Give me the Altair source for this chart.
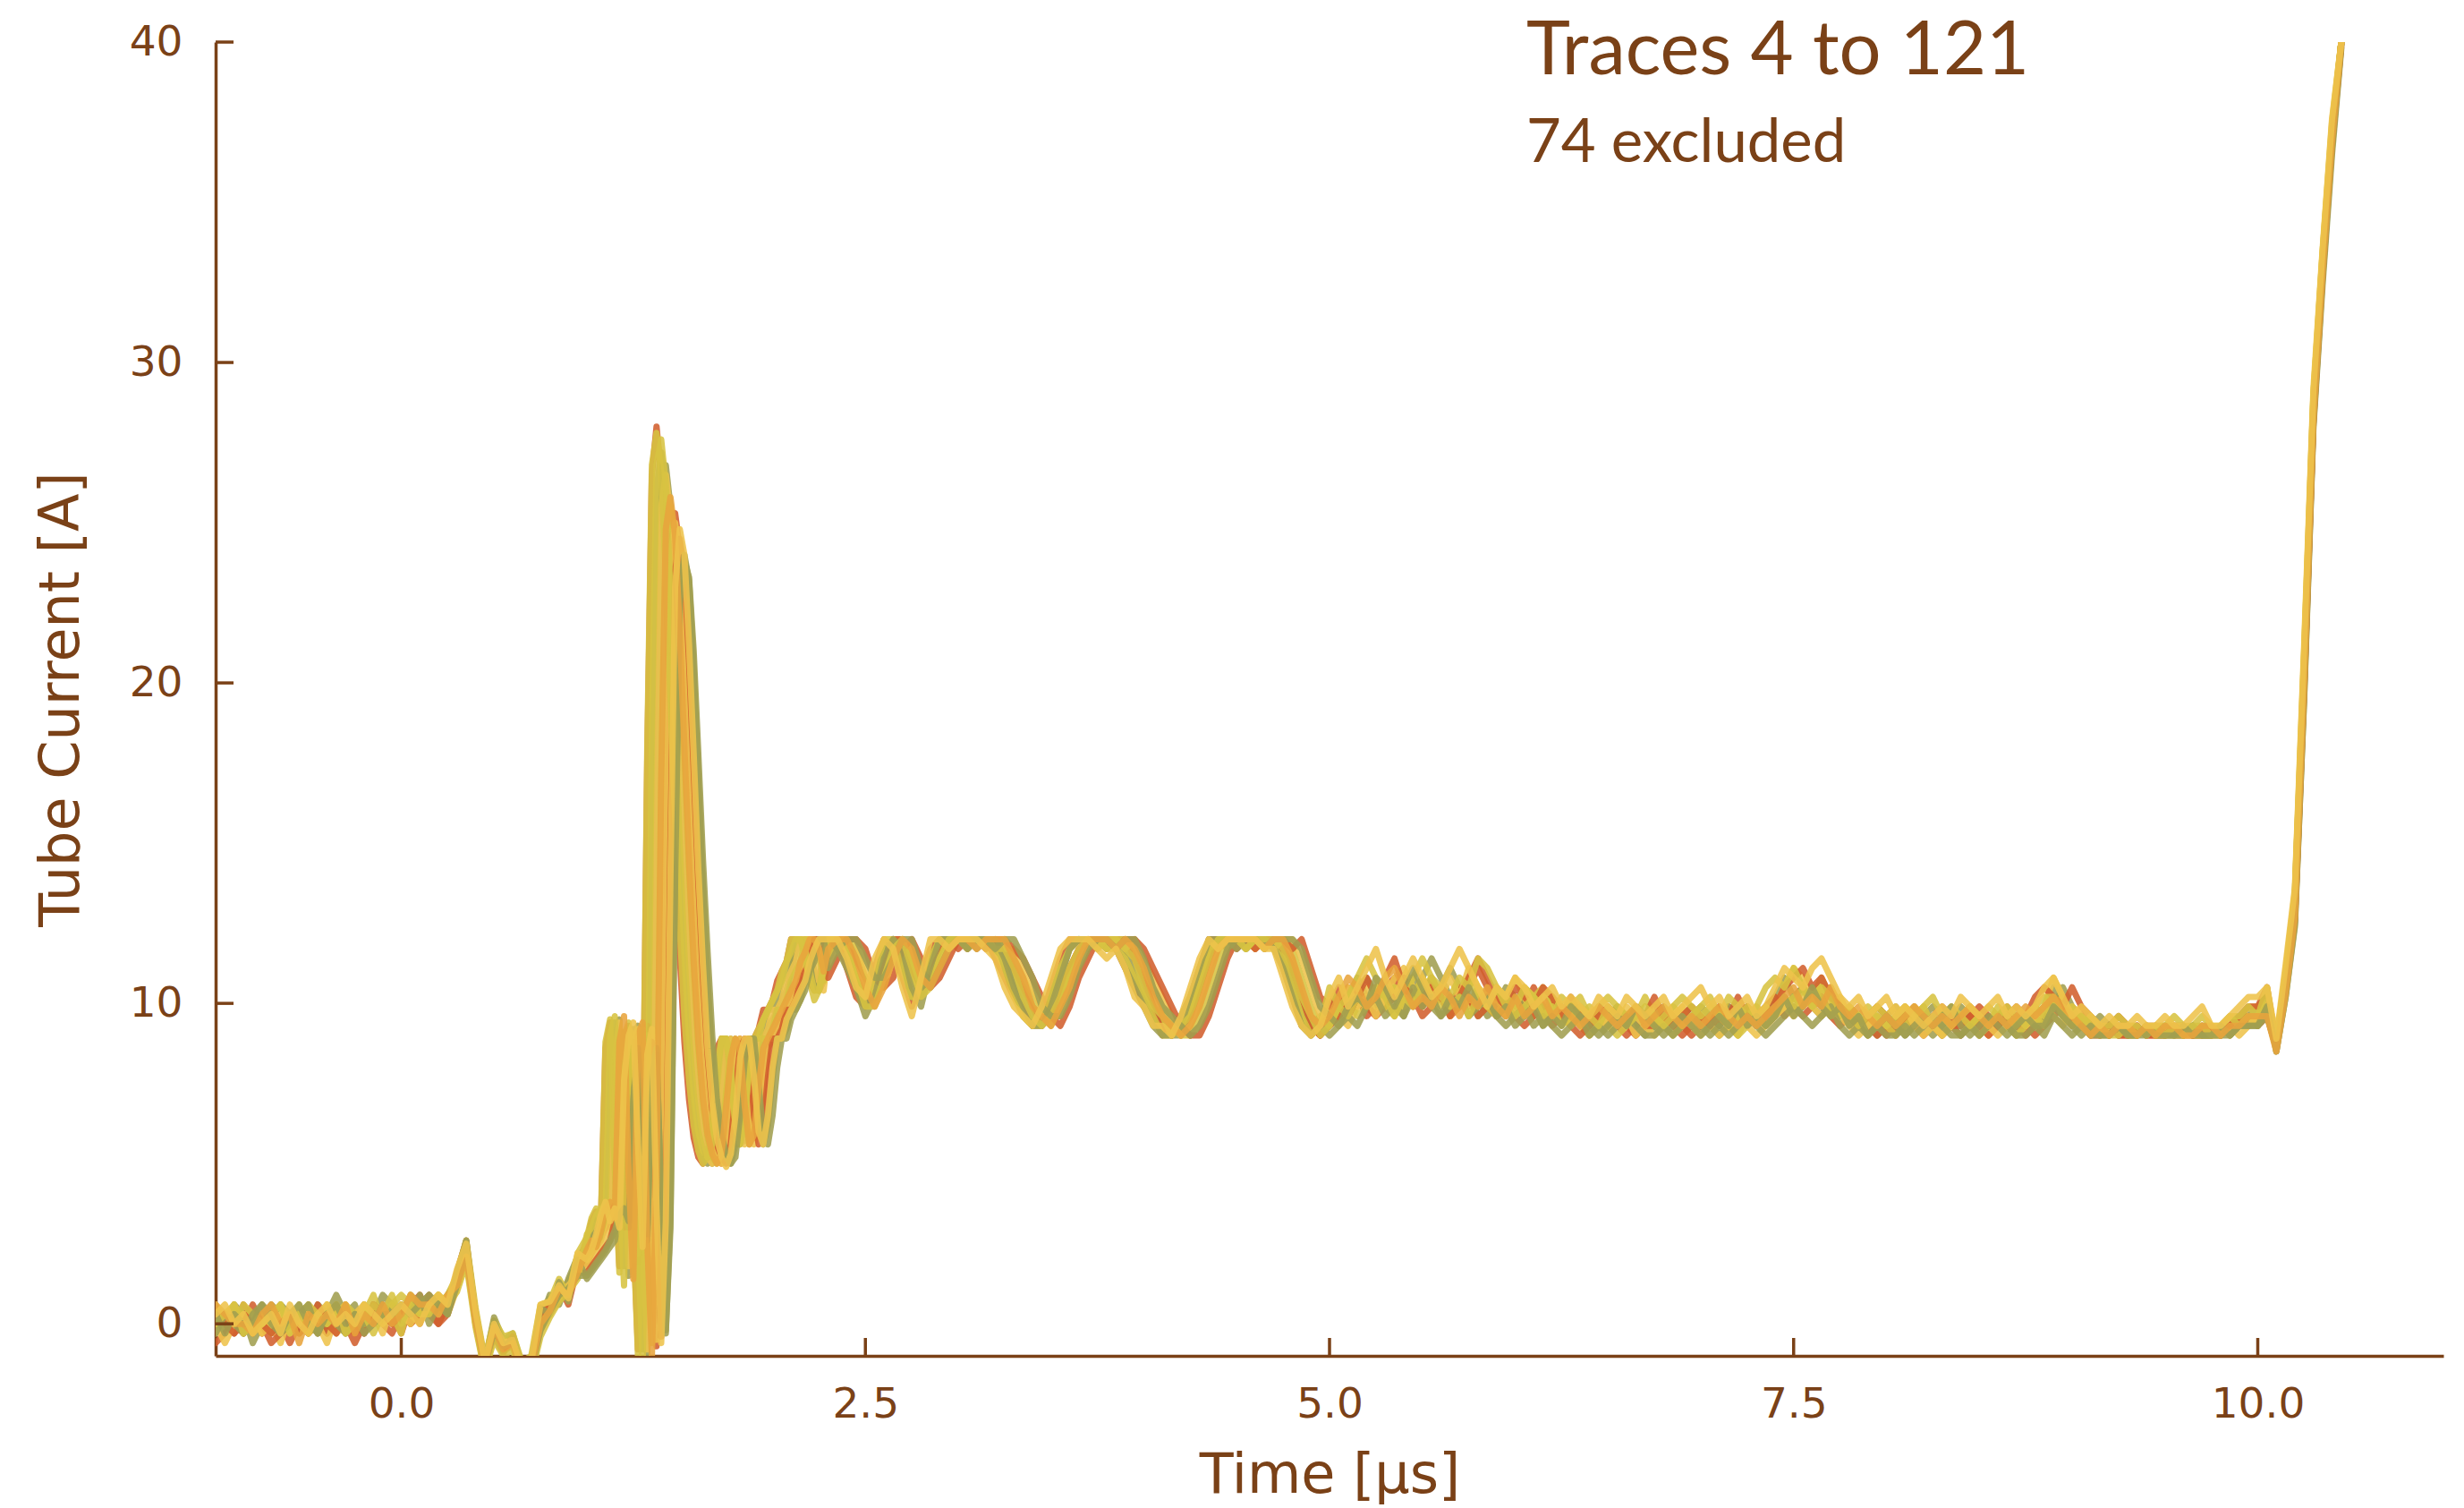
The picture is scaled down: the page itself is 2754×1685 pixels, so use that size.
import altair as alt
import pandas as pd

# ---------------- data ----------------
# sample-time segments: (start [us], step [us], count)
SEGMENTS = [(-1.0, 0.05, 40), (1.0, 0.025, 52), (2.3, 0.05, 54), (5.0, 0.05, 100), (10.0, 0.05, 10)]
TIME = [round(s + d * i, 3) for s, d, n in SEGMENTS for i in range(n)]

TRACES = ["4", "11", "17", "23", "29", "36", "48", "59", "64", "72", "85", "93", "101", "121"]
COLORS = ["#d25f2d", "#a09e50", "#a09e50", "#eec34b", "#d25f2d", "#d7c341", "#eec34b",
          "#d25f2d", "#d7c341", "#a09e50", "#d7c341", "#a09e50", "#e8a43c", "#eec34b"]

# segment 1: -1.00 .. 0.95 us
SEG1 = {
    "4":   [0.0, 0.3, -0.3, 0.6, 0.0, -0.3, 0.3, 0.0, -0.6, 0.0, 0.3, -0.3, 0.0, 0.6, 0.0, -0.3, 0.3, 0.0, 0.6, 0.3, -0.3, 0.6, 0.9, 0.3, 0.0, 0.6, 1.6, 2.6, 0.2, -1.4, -0.1, -0.8, -0.5, -1.5, -1.4, 0.4, 0.6, 1.2, 0.6, 1.8],
    "11":  [0.3, -0.3, 0.0, 0.3, -0.6, 0.0, 0.6, 0.3, 0.0, -0.3, 0.0, 0.3, -0.3, 0.0, 0.3, 0.6, -0.3, 0.3, 0.0, 0.6, 0.0, 0.3, 0.6, 0.9, 0.3, 0.9, 1.3, 2.3, 0.4, -1.2, 0.1, -0.6, -0.4, -1.4, -1.2, 0.1, 0.9, 0.6, 1.4, 2.1],
    "17":  [0.3, 0.0, 0.6, 0.3, -0.3, 0.3, 0.0, 0.6, 0.3, 0.0, -0.3, 0.6, 0.3, 0.9, 0.3, 0.0, 0.6, 0.3, 0.9, 0.6, 0.3, 0.9, 0.6, 0.3, 0.6, 0.9, 1.4, 2.5, 0.3, -1.2, 0.2, -0.5, -0.3, -1.3, -1.1, 0.3, 0.8, 1.0, 1.3, 2.0],
    "23":  [-0.3, 0.0, 0.6, 0.0, 0.3, -0.3, 0.0, -0.6, 0.3, 0.0, 0.6, 0.0, 0.3, -0.3, 0.0, 0.3, 0.6, 0.0, 0.3, 0.0, 0.6, 0.0, 0.3, 0.6, 0.9, 0.3, 1.1, 2.0, 0.0, -1.5, -0.3, -0.9, -0.6, -1.6, -1.3, -0.2, 0.3, 0.9, 1.2, 1.5],
    "29":  [-0.6, -0.3, 0.0, -0.3, 0.3, 0.0, -0.6, -0.3, 0.0, 0.3, -0.3, 0.0, -0.3, 0.3, 0.0, -0.6, 0.0, 0.3, 0.0, -0.3, 0.3, 0.0, 0.3, 0.6, 0.0, 0.3, 1.3, 2.4, 0.0, -1.4, -0.3, -0.8, -0.7, -1.6, -1.5, 0.0, 0.3, 0.8, 1.0, 1.7],
    "36":  [0.6, 0.0, 0.3, -0.3, 0.0, 0.3, -0.3, 0.3, 0.0, 0.6, -0.3, 0.0, 0.6, 0.3, -0.3, 0.0, 0.3, 0.9, 0.0, 0.3, -0.3, 0.9, 0.3, 0.6, 0.9, 0.6, 1.4, 2.4, 0.3, -1.3, 0.0, -0.7, -0.5, -1.5, -1.5, 0.2, 0.5, 1.0, 0.9, 1.9],
    "48":  [0.0, -0.6, 0.0, 0.3, 0.3, -0.3, 0.0, 0.3, -0.3, 0.0, 0.3, 0.0, -0.6, 0.3, 0.6, 0.0, 0.0, 0.3, -0.3, 0.6, 0.3, 0.0, 0.6, 0.3, 0.6, 0.9, 1.2, 2.2, 0.1, -1.4, -0.2, -0.5, -0.7, -1.6, -1.6, -0.1, 0.4, 0.8, 1.1, 1.7],
    "59":  [0.3, 0.0, -0.3, 0.0, 0.6, 0.0, -0.3, 0.0, 0.3, -0.3, 0.0, 0.6, 0.0, -0.3, 0.3, 0.0, -0.3, 0.6, 0.3, 0.0, 0.3, 0.6, 0.0, 0.9, 0.3, 0.6, 1.5, 2.5, 0.2, -1.1, -0.4, -0.9, -0.4, -1.5, -1.3, 0.3, 0.6, 0.9, 1.0, 1.6],
    "64":  [0.0, 0.3, 0.0, 0.6, 0.3, 0.0, 0.3, 0.6, 0.0, 0.3, 0.6, 0.3, 0.0, 0.3, 0.6, 0.3, 0.0, 0.6, 0.3, 0.6, 0.9, 0.6, 0.3, 0.6, 0.3, 0.9, 1.5, 2.6, 0.5, -1.1, 0.1, -0.4, -0.3, -1.2, -1.0, 0.6, 0.7, 1.4, 0.9, 2.2],
    "72":  [-0.3, 0.3, 0.0, -0.3, 0.3, 0.6, 0.0, -0.3, 0.0, 0.3, 0.6, -0.3, 0.3, 0.0, -0.3, 0.3, 0.0, 0.0, 0.6, 0.3, 0.6, 0.3, 0.9, 0.0, 0.6, 0.3, 1.6, 2.6, 0.3, -1.3, 0.1, -0.7, -0.6, -1.4, -1.4, 0.5, 0.3, 1.3, 0.7, 2.0],
    "85":  [0.0, 0.3, 0.6, -0.3, 0.0, 0.0, 0.3, 0.6, -0.3, 0.3, 0.0, 0.3, 0.0, 0.6, -0.3, 0.0, 0.3, -0.3, 0.3, 0.9, 0.0, 0.6, 0.3, 0.3, 0.9, 0.6, 1.0, 1.9, -0.1, -1.5, -0.5, -1.0, -0.8, -1.7, -1.6, -0.4, 0.2, 0.7, 1.0, 1.4],
    "93":  [0.3, -0.3, 0.3, 0.0, 0.0, 0.6, 0.3, -0.3, 0.3, 0.6, 0.0, -0.3, 0.3, 0.6, 0.0, 0.3, -0.3, 0.0, 0.3, 0.3, 0.6, 0.3, 0.6, 0.9, 0.6, 0.3, 1.2, 2.3, 0.2, -1.3, -0.2, -0.7, -0.5, -1.5, -1.4, -0.2, 0.4, 0.9, 1.1, 1.5],
    "101": [0.6, 0.3, 0.0, 0.0, -0.3, 0.3, 0.6, 0.0, 0.3, -0.6, 0.3, 0.0, 0.3, 0.0, 0.6, -0.3, 0.3, 0.0, 0.6, 0.0, 0.3, 0.9, 0.6, 0.6, 0.3, 0.9, 1.2, 2.1, 0.1, -1.3, -0.1, -0.8, -0.6, -1.5, -1.4, 0.0, 0.4, 1.1, 0.9, 1.6],
    "121": [0.3, 0.6, 0.0, 0.3, -0.3, 0.0, 0.3, -0.3, 0.6, 0.0, -0.3, 0.3, 0.6, 0.0, 0.3, 0.0, 0.6, 0.3, 0.0, 0.3, 0.6, 0.3, 0.0, 0.6, 0.9, 0.6, 1.7, 2.5, 0.4, -1.2, 0.0, -0.6, -0.5, -1.4, -1.2, 0.6, 0.7, 1.2, 0.8, 2.2],
}

# segment 2: 1.000 .. 2.275 us (main pulse)
SEG2 = {
    "4":   [2.6, 3.2, 3.5, 3.0, 8.6, 9.4, 5.0, 1.8, 8.8, 9.2, 3.0, -0.8, 4.5, 17.5, 26.5, 28.0, 26.5, 23.0, 19.0, 15.0, 11.5, 8.8, 7.0, 5.8, 5.2, 5.0, 5.6, 7.2, 8.6, 8.9, 8.3, 6.5, 5.6, 6.2, 7.7, 8.9, 8.9, 9.2, 9.8, 9.8, 10.1, 10.7, 11.0, 11.3, 12.0, 12.0, 12.0, 11.6, 10.7, 10.4, 10.7, 11.6],
    "11":  [2.4, 2.6, 3.2, 3.5, 3.0, 8.6, 9.4, 5.0, 1.8, 8.8, 9.2, 3.0, -0.8, 4.5, 17.0, 26.0, 27.2, 25.8, 22.5, 18.6, 14.7, 11.5, 8.8, 7.0, 5.8, 5.2, 5.0, 5.6, 7.2, 8.6, 8.9, 8.3, 6.5, 5.6, 6.2, 7.7, 8.9, 8.9, 9.2, 9.8, 9.8, 10.1, 10.7, 11.0, 11.3, 12.0, 12.0, 12.0, 11.6, 10.7, 10.4, 10.7],
    "17":  [2.5, 2.8, 3.0, 3.3, 3.6, 3.1, 8.9, 9.5, 4.8, 1.5, 9.0, 9.3, 2.8, -1.0, 4.6, 17.2, 25.8, 26.8, 25.5, 22.2, 18.4, 14.6, 11.4, 8.9, 7.1, 5.9, 5.2, 5.0, 5.4, 6.9, 8.4, 8.9, 8.6, 6.8, 5.7, 5.9, 7.4, 8.7, 8.9, 9.2, 9.5, 9.8, 10.1, 10.4, 11.0, 11.6, 12.0, 12.0, 11.7, 11.0, 10.4, 10.7],
    "23":  [2.2, 2.4, 2.6, 3.2, 3.5, 3.0, 8.3, 9.4, 5.0, 1.8, 8.8, 9.2, 3.0, -0.8, 4.2, 16.5, 25.5, 26.5, 25.2, 22.0, 18.2, 14.5, 11.3, 8.7, 7.0, 5.8, 5.2, 5.0, 5.6, 7.2, 8.6, 8.9, 8.3, 6.5, 5.6, 6.2, 7.7, 8.9, 8.9, 9.2, 9.8, 9.8, 10.1, 10.7, 11.0, 11.3, 12.0, 12.0, 12.0, 11.6, 10.7, 10.4],
    "29":  [1.9, 2.2, 2.5, 2.7, 3.0, 3.4, 3.7, 3.1, 8.2, 9.3, 5.2, 1.9, 8.6, 9.3, 3.2, -0.7, 4.0, 16.0, 24.4, 25.3, 24.2, 21.3, 17.8, 14.3, 11.3, 8.8, 7.0, 5.9, 5.3, 5.0, 5.3, 6.8, 8.4, 8.9, 8.6, 6.8, 5.8, 5.9, 7.1, 8.6, 8.9, 9.2, 9.5, 9.8, 10.1, 10.4, 10.7, 11.3, 11.7, 12.0, 12.0, 12.0],
    "36":  [2.0, 2.2, 2.4, 2.6, 3.2, 3.5, 3.0, 8.0, 9.1, 5.2, 2.0, 8.6, 9.2, 3.2, -0.6, 4.0, 16.0, 24.5, 25.5, 24.3, 21.4, 17.8, 14.2, 11.2, 8.6, 6.9, 5.8, 5.2, 5.0, 5.6, 7.2, 8.6, 8.9, 8.3, 6.5, 5.6, 6.2, 7.7, 8.9, 8.9, 9.2, 9.8, 9.8, 10.1, 10.7, 11.0, 11.3, 12.0, 12.0, 12.0, 11.6, 10.7],
    "48":  [1.8, 2.0, 2.2, 2.4, 2.6, 3.2, 3.5, 3.0, 7.8, 9.0, 5.4, 2.2, 8.4, 9.0, 3.4, -0.5, 3.8, 15.5, 24.0, 25.0, 23.9, 21.0, 17.5, 14.0, 11.0, 8.5, 6.8, 5.7, 5.2, 5.0, 5.6, 7.2, 8.6, 8.9, 8.3, 6.5, 5.6, 6.2, 7.7, 8.9, 8.9, 9.2, 9.8, 9.8, 10.1, 10.7, 11.0, 11.3, 12.0, 12.0, 12.0, 11.6],
    "59":  [1.6, 1.8, 2.0, 2.2, 2.4, 2.6, 3.2, 3.5, 3.0, 7.5, 8.8, 5.6, 2.4, 8.2, 8.8, 3.6, -0.4, 3.6, 15.0, 23.5, 24.5, 23.5, 20.7, 17.3, 13.8, 10.8, 8.4, 6.7, 5.6, 5.2, 5.0, 5.6, 7.2, 8.6, 8.9, 8.3, 6.5, 5.6, 6.2, 7.7, 8.9, 8.9, 9.2, 9.8, 9.8, 10.1, 10.7, 11.0, 11.3, 12.0, 12.0, 12.0],
    "64":  [2.7, 3.3, 3.6, 3.2, 8.8, 9.5, 4.8, 1.6, 9.0, 9.4, 2.8, -1.0, 4.8, 18.0, 26.8, 27.8, 26.6, 23.4, 19.6, 15.8, 12.4, 9.6, 7.6, 6.2, 5.4, 5.0, 5.2, 6.4, 8.0, 8.9, 8.9, 7.7, 6.2, 5.6, 6.5, 8.0, 8.9, 8.9, 9.5, 9.8, 10.1, 10.4, 10.7, 11.3, 12.0, 12.0, 12.0, 11.4, 10.7, 10.1, 10.4, 11.3],
    "72":  [1.4, 1.6, 1.8, 2.0, 2.2, 2.4, 2.6, 3.2, 3.5, 3.0, 7.2, 8.6, 5.8, 2.6, 8.0, 8.6, 3.8, -0.3, 3.4, 14.5, 23.0, 24.0, 23.2, 20.5, 17.0, 13.6, 10.7, 8.3, 6.6, 5.6, 5.2, 5.0, 5.6, 7.2, 8.6, 8.9, 8.3, 6.5, 5.6, 6.2, 7.7, 8.9, 8.9, 9.2, 9.8, 9.8, 10.1, 10.7, 11.0, 11.3, 12.0, 12.0],
    "85":  [2.8, 3.0, 3.4, 3.6, 3.4, 9.0, 9.6, 4.4, 1.2, 9.2, 9.0, 2.4, -1.2, 5.0, 18.5, 26.8, 27.6, 26.2, 22.8, 18.8, 14.9, 11.6, 9.0, 7.2, 6.0, 5.4, 5.2, 5.6, 7.4, 8.9, 8.9, 8.0, 6.2, 5.6, 6.5, 8.0, 8.9, 9.2, 9.5, 9.8, 10.1, 10.4, 11.0, 11.3, 11.6, 12.0, 12.0, 11.7, 11.0, 10.4, 10.4, 11.0],
    "93":  [1.5, 1.7, 1.9, 2.1, 2.3, 2.6, 2.9, 3.4, 3.6, 3.2, 7.0, 8.4, 6.0, 2.8, 7.8, 8.4, 4.0, -0.2, 3.0, 13.8, 22.5, 23.8, 23.3, 21.0, 17.8, 14.5, 11.6, 9.0, 7.0, 5.9, 5.3, 5.0, 5.2, 6.5, 8.2, 8.9, 8.9, 7.4, 6.0, 5.6, 6.5, 8.0, 8.9, 8.9, 9.5, 9.8, 10.1, 10.4, 11.0, 11.6, 12.0, 12.0],
    "101": [2.3, 2.6, 2.4, 2.9, 3.6, 3.8, 3.3, 8.8, 9.6, 4.6, 1.4, 9.0, 9.4, 2.6, -1.0, 4.4, 17.0, 24.8, 25.8, 24.6, 21.6, 18.0, 14.4, 11.3, 8.8, 7.0, 5.9, 5.3, 5.0, 5.3, 6.8, 8.3, 8.9, 8.6, 6.8, 5.6, 5.9, 7.4, 8.6, 8.9, 9.2, 9.5, 9.8, 10.1, 10.4, 10.7, 11.3, 11.6, 12.0, 12.0, 11.7, 11.0],
    "121": [2.0, 2.3, 2.8, 3.4, 3.8, 3.2, 3.6, 3.0, 7.6, 9.0, 9.4, 5.6, 2.4, 8.4, 9.2, 3.6, -0.6, 3.2, 14.0, 23.0, 24.8, 24.0, 21.2, 17.8, 14.2, 11.2, 8.6, 6.9, 5.8, 5.2, 4.9, 5.3, 6.5, 8.3, 8.9, 8.9, 7.7, 6.0, 5.6, 6.5, 8.0, 8.9, 8.9, 9.5, 9.8, 10.1, 10.4, 10.7, 11.3, 11.7, 12.0, 12.0],
}

# segment 3: 2.30 .. 4.95 us (ringing at 9-12 A)
SEG3 = {
    "4":   [12.0, 12.0, 11.1, 10.2, 9.9, 11.1, 12.0, 11.7, 10.8, 9.9, 10.8, 11.7, 12.0, 12.0, 11.7, 12.0, 12.0, 12.0, 11.4, 10.8, 10.2, 9.9, 9.3, 9.6, 10.5, 11.4, 12.0, 12.0, 11.7, 12.0, 12.0, 11.7, 11.1, 10.5, 9.9, 9.6, 9.0, 9.3, 9.6, 10.2, 11.1, 12.0, 12.0, 11.7, 12.0, 12.0, 11.7, 12.0, 12.0, 11.1, 10.2, 9.3, 9.3, 9.0],
    "11":  [12.0, 12.0, 11.7, 10.8, 10.2, 10.5, 11.7, 12.0, 11.4, 10.2, 10.2, 11.4, 12.0, 12.0, 12.0, 12.0, 11.7, 12.0, 12.0, 11.4, 10.8, 10.2, 9.6, 9.3, 9.9, 10.8, 11.7, 12.0, 12.0, 11.7, 12.0, 12.0, 11.7, 11.1, 10.2, 9.9, 9.3, 9.0, 9.0, 9.6, 10.5, 11.4, 12.0, 12.0, 12.0, 11.7, 12.0, 12.0, 11.7, 11.7, 10.8, 9.9, 9.3, 9.6],
    "17":  [12.0, 11.7, 11.4, 10.5, 9.9, 10.5, 11.7, 12.0, 11.1, 10.2, 10.5, 11.4, 12.0, 11.7, 12.0, 12.0, 12.0, 12.0, 11.7, 11.1, 10.5, 9.6, 9.3, 9.6, 10.2, 11.1, 11.7, 12.0, 11.7, 12.0, 12.0, 12.0, 11.4, 10.8, 10.2, 9.6, 9.3, 9.3, 9.6, 10.2, 11.1, 11.7, 12.0, 12.0, 12.0, 11.7, 12.0, 12.0, 11.7, 11.4, 10.5, 9.6, 9.3, 9.3],
    "23":  [11.7, 12.0, 12.0, 11.1, 10.5, 10.2, 11.1, 12.0, 12.0, 10.8, 10.2, 11.1, 11.7, 12.0, 12.0, 12.0, 12.0, 11.7, 12.0, 11.7, 11.1, 10.5, 9.9, 9.6, 9.6, 10.5, 11.1, 11.7, 12.0, 12.0, 12.0, 11.7, 12.0, 11.4, 10.8, 10.2, 9.6, 9.3, 9.0, 9.3, 9.9, 11.1, 11.7, 12.0, 12.0, 12.0, 11.7, 12.0, 12.0, 12.0, 11.4, 10.2, 9.6, 9.3],
    "29":  [11.4, 12.0, 12.0, 11.4, 10.8, 10.5, 11.1, 12.0, 12.0, 11.1, 10.5, 10.8, 11.7, 12.0, 12.0, 11.7, 12.0, 12.0, 12.0, 11.7, 11.1, 10.5, 9.9, 9.3, 9.6, 10.2, 11.1, 11.7, 12.0, 12.0, 11.7, 12.0, 12.0, 11.4, 10.8, 9.9, 9.3, 9.0, 9.3, 9.6, 10.5, 11.4, 12.0, 12.0, 11.7, 12.0, 12.0, 12.0, 12.0, 11.7, 11.1, 10.2, 9.3, 9.0],
    "36":  [11.4, 12.0, 12.0, 11.7, 10.8, 10.2, 10.8, 11.7, 12.0, 11.4, 10.5, 10.8, 11.4, 12.0, 12.0, 12.0, 12.0, 12.0, 11.7, 12.0, 11.4, 10.8, 10.2, 9.6, 9.3, 9.9, 10.8, 11.4, 12.0, 12.0, 11.7, 12.0, 12.0, 11.7, 11.1, 10.5, 9.9, 9.3, 9.0, 9.0, 9.6, 10.5, 11.4, 12.0, 12.0, 12.0, 12.0, 11.7, 12.0, 12.0, 11.7, 10.8, 9.9, 9.3],
    "48":  [11.1, 11.7, 12.0, 12.0, 11.1, 10.5, 10.5, 11.4, 12.0, 11.7, 10.8, 10.5, 11.1, 11.7, 12.0, 12.0, 12.0, 12.0, 12.0, 11.7, 11.7, 11.1, 10.5, 9.9, 9.6, 9.6, 10.5, 11.1, 11.7, 12.0, 12.0, 12.0, 11.7, 12.0, 11.4, 10.8, 10.2, 9.6, 9.3, 9.0, 9.3, 9.9, 10.8, 11.7, 12.0, 12.0, 12.0, 12.0, 11.7, 12.0, 12.0, 11.4, 10.5, 9.6],
    "59":  [10.8, 11.4, 12.0, 12.0, 11.7, 10.8, 10.5, 10.8, 11.7, 12.0, 11.4, 10.5, 10.8, 11.4, 12.0, 12.0, 12.0, 11.7, 12.0, 12.0, 11.7, 11.4, 10.8, 10.2, 9.6, 9.3, 9.9, 10.8, 11.4, 12.0, 12.0, 11.7, 12.0, 12.0, 11.7, 11.1, 10.5, 9.9, 9.3, 9.0, 9.0, 9.6, 10.5, 11.4, 12.0, 12.0, 11.7, 12.0, 12.0, 12.0, 11.7, 12.0, 11.1, 10.2],
    "64":  [12.0, 12.0, 11.7, 10.8, 10.2, 10.8, 12.0, 12.0, 11.1, 10.2, 10.5, 11.4, 12.0, 12.0, 12.0, 11.7, 12.0, 12.0, 11.7, 11.1, 10.2, 9.6, 9.3, 9.3, 10.2, 11.1, 11.7, 12.0, 12.0, 12.0, 11.7, 11.7, 11.4, 10.8, 10.2, 9.6, 9.0, 9.0, 9.3, 9.9, 10.8, 11.7, 12.0, 12.0, 12.0, 11.7, 12.0, 12.0, 11.7, 11.4, 10.5, 9.6, 9.0, 9.3],
    "72":  [12.0, 11.7, 11.1, 10.5, 9.6, 10.2, 11.4, 12.0, 11.7, 10.5, 9.9, 11.1, 12.0, 12.0, 12.0, 11.7, 12.0, 12.0, 12.0, 11.4, 10.5, 9.9, 9.3, 9.3, 9.9, 10.8, 11.7, 12.0, 12.0, 12.0, 12.0, 11.7, 11.1, 10.5, 9.9, 9.3, 9.0, 9.0, 9.3, 10.2, 11.1, 12.0, 12.0, 12.0, 11.7, 12.0, 12.0, 12.0, 11.7, 11.1, 10.2, 9.3, 9.0, 9.3],
    "85":  [12.0, 12.0, 11.7, 10.8, 9.9, 9.9, 10.8, 11.7, 12.0, 11.1, 10.2, 10.5, 11.4, 12.0, 12.0, 12.0, 12.0, 12.0, 11.7, 11.7, 11.1, 10.2, 9.6, 9.3, 9.6, 10.2, 11.1, 11.7, 12.0, 11.7, 12.0, 12.0, 11.7, 11.4, 10.5, 9.9, 9.6, 9.0, 9.3, 9.6, 10.5, 11.4, 12.0, 12.0, 12.0, 11.7, 12.0, 12.0, 12.0, 11.7, 11.1, 10.2, 9.6, 9.0],
    "93":  [11.1, 11.7, 12.0, 12.0, 11.4, 10.8, 10.8, 11.4, 12.0, 12.0, 11.1, 10.5, 11.1, 11.7, 12.0, 12.0, 12.0, 12.0, 11.7, 12.0, 12.0, 11.4, 10.8, 9.9, 9.6, 9.6, 10.2, 11.1, 11.7, 12.0, 12.0, 11.7, 12.0, 12.0, 11.4, 10.5, 9.9, 9.6, 9.3, 9.0, 9.3, 9.9, 10.8, 11.7, 12.0, 12.0, 12.0, 11.7, 12.0, 12.0, 12.0, 11.7, 10.8, 9.9],
    "101": [11.7, 12.0, 12.0, 11.4, 10.5, 9.9, 10.5, 11.4, 12.0, 11.7, 10.8, 10.5, 11.1, 11.7, 12.0, 12.0, 11.7, 12.0, 12.0, 12.0, 11.4, 10.8, 9.9, 9.6, 9.3, 9.9, 10.5, 11.4, 12.0, 12.0, 12.0, 11.7, 12.0, 11.7, 11.1, 10.2, 9.6, 9.3, 9.0, 9.3, 9.9, 10.8, 11.7, 12.0, 12.0, 12.0, 12.0, 11.7, 12.0, 12.0, 11.4, 10.5, 9.6, 9.3],
    "121": [12.0, 12.0, 11.4, 10.5, 10.2, 11.4, 12.0, 11.7, 10.5, 9.6, 10.8, 12.0, 12.0, 11.7, 12.0, 12.0, 12.0, 11.7, 11.4, 10.5, 9.9, 9.6, 9.3, 9.9, 10.8, 11.7, 12.0, 12.0, 12.0, 11.7, 11.4, 11.7, 11.1, 10.2, 9.9, 9.3, 9.3, 9.0, 9.6, 10.5, 11.4, 12.0, 11.7, 12.0, 12.0, 12.0, 12.0, 11.7, 11.7, 10.8, 9.9, 9.3, 9.0, 9.3],
}

# segment 4: 5.00 .. 9.95 us (noisy plateau)
SEG4 = {
    "4": [9.6, 9.9, 10.5, 10.2, 9.6, 9.9, 10.5, 10.8, 10.2, 9.9,
          10.2, 10.8, 10.2, 9.6, 9.9, 10.5, 11.1, 10.5, 9.9, 9.6,
          10.2, 9.9, 10.5, 9.9, 9.6, 9.9, 9.3, 9.6, 9.3, 9.9,
          9.6, 9.3, 9.0, 9.3, 9.6, 9.9, 9.3, 9.6, 9.3, 9.0,
          9.3, 9.6, 9.3, 9.9, 9.6, 9.3, 9.6, 9.3, 9.6, 9.9,
          10.2, 10.5, 10.2, 9.9, 10.5, 9.9, 9.6, 9.3, 9.6, 9.3,
          9.0, 9.3, 9.6, 9.3, 9.0, 9.3, 9.6, 9.3, 9.0, 9.3,
          9.6, 9.3, 9.6, 9.9, 9.3, 9.0, 9.3, 9.6, 10.2, 9.6,
          9.3, 9.6, 9.3, 9.0, 9.3, 9.0, 9.0, 9.3, 9.0, 9.0,
          9.3, 9.0, 9.0, 9.3, 9.0, 9.0, 9.3, 9.3, 9.6, 9.3],
    "11": [9.3, 9.6, 10.2, 10.8, 10.2, 9.9, 10.5, 10.2, 9.6, 10.2,
           10.8, 11.4, 10.8, 10.2, 9.9, 10.2, 9.6, 9.9, 10.5, 9.9,
           9.6, 10.2, 9.9, 9.3, 9.6, 9.9, 9.6, 9.3, 9.0, 9.3,
           9.6, 9.9, 9.6, 9.3, 9.0, 9.3, 9.6, 9.3, 9.6, 9.9,
           9.6, 9.3, 9.0, 9.3, 9.6, 9.9, 9.3, 9.6, 10.2, 10.8,
           10.2, 9.9, 10.5, 10.2, 9.6, 9.9, 9.3, 9.6, 9.3, 9.0,
           9.3, 9.6, 9.0, 9.3, 9.6, 9.9, 9.6, 9.3, 9.0, 9.3,
           9.0, 9.3, 9.6, 9.3, 9.0, 9.3, 9.6, 9.9, 10.5, 9.9,
           9.6, 9.3, 9.0, 9.3, 9.0, 9.3, 9.0, 9.0, 9.3, 9.0,
           9.0, 9.3, 9.0, 9.3, 9.0, 9.0, 9.0, 9.3, 9.3, 9.6],
    "17": [9.9, 10.2, 9.6, 10.5, 10.8, 10.2, 9.9, 10.5, 10.2, 10.8,
           10.2, 9.9, 10.5, 11.1, 10.5, 9.9, 10.2, 9.6, 9.9, 10.5,
           10.2, 9.6, 9.9, 9.6, 10.2, 9.9, 9.6, 9.9, 9.6, 9.3,
           9.6, 9.9, 9.3, 9.6, 9.3, 9.6, 9.9, 9.6, 9.3, 9.6,
           9.9, 9.6, 9.3, 9.9, 9.6, 9.3, 9.6, 9.9, 10.2, 9.9,
           10.2, 10.5, 9.9, 9.6, 10.2, 9.9, 9.6, 9.3, 9.6, 9.9,
           9.6, 9.9, 9.3, 9.6, 9.3, 9.0, 9.3, 9.6, 9.9, 9.6,
           9.3, 9.6, 9.3, 9.6, 9.3, 9.6, 9.3, 9.6, 9.9, 10.5,
           9.9, 9.6, 9.3, 9.6, 9.3, 9.0, 9.3, 9.3, 9.0, 9.3,
           9.3, 9.0, 9.3, 9.0, 9.3, 9.3, 9.0, 9.3, 9.6, 9.6],
    "23": [9.9, 9.6, 9.3, 9.9, 10.5, 9.9, 10.2, 10.8, 11.1, 10.5,
           9.9, 10.5, 10.2, 9.6, 10.2, 9.9, 10.5, 10.2, 9.6, 10.2,
           10.8, 10.2, 9.6, 9.9, 10.2, 9.6, 9.9, 9.3, 9.0, 9.3,
           9.6, 9.3, 9.9, 9.6, 9.3, 9.0, 9.3, 9.6, 9.9, 9.3,
           9.0, 9.3, 9.6, 9.3, 9.0, 9.6, 9.9, 9.6, 9.9, 10.5,
           11.1, 10.8, 10.2, 10.5, 9.9, 10.2, 9.6, 9.3, 9.0, 9.3,
           9.6, 9.9, 9.6, 9.3, 9.0, 9.3, 9.6, 9.3, 9.6, 9.9,
           9.3, 9.0, 9.3, 9.6, 9.3, 9.6, 9.3, 9.9, 10.8, 10.2,
           9.6, 9.9, 9.3, 9.3, 9.0, 9.3, 9.0, 9.3, 9.0, 9.3,
           9.0, 9.0, 9.3, 9.0, 9.0, 9.3, 9.0, 9.3, 9.6, 9.9],
    "29": [9.3, 9.6, 9.9, 10.5, 9.9, 9.6, 9.9, 10.2, 10.8, 10.2,
           9.6, 9.9, 10.2, 9.9, 10.5, 10.2, 9.6, 9.9, 9.6, 9.9,
           9.6, 9.3, 9.6, 9.9, 9.3, 9.6, 9.3, 9.0, 9.3, 9.6,
           9.3, 9.6, 9.3, 9.0, 9.3, 9.3, 9.6, 9.3, 9.0, 9.3,
           9.6, 9.3, 9.6, 9.3, 9.6, 9.9, 9.6, 9.9, 10.2, 9.6,
           9.9, 9.6, 9.9, 10.2, 9.6, 9.3, 9.6, 9.3, 9.3, 9.0,
           9.3, 9.0, 9.6, 9.3, 9.6, 9.3, 9.0, 9.3, 9.3, 9.6,
           9.3, 9.0, 9.3, 9.6, 9.3, 9.3, 9.0, 9.3, 9.6, 9.9,
           9.3, 9.6, 9.0, 9.0, 9.3, 9.0, 9.0, 9.3, 9.0, 9.0,
           9.0, 9.3, 9.0, 9.0, 9.0, 9.3, 9.0, 9.3, 9.3, 9.6],
    "36": [9.3, 9.9, 10.2, 9.6, 9.9, 10.5, 9.9, 9.6, 10.2, 10.8,
           11.4, 10.8, 10.5, 9.9, 10.2, 10.8, 10.2, 9.9, 9.6, 10.2,
           9.9, 9.6, 10.2, 10.5, 9.9, 9.6, 9.3, 9.6, 9.9, 9.6,
           9.3, 9.0, 9.3, 9.6, 10.2, 9.6, 9.3, 9.0, 9.3, 9.6,
           9.3, 9.6, 9.9, 9.3, 9.0, 9.3, 9.6, 9.9, 9.6, 9.9,
           10.2, 9.9, 10.2, 10.8, 10.2, 9.6, 9.9, 9.6, 9.3, 9.6,
           9.3, 9.0, 9.3, 9.6, 9.9, 9.3, 9.0, 9.3, 9.6, 9.3,
           9.6, 9.9, 9.6, 9.3, 9.0, 9.3, 9.6, 9.3, 9.9, 10.2,
           9.6, 9.3, 9.6, 9.3, 9.0, 9.0, 9.3, 9.0, 9.3, 9.0,
           9.0, 9.3, 9.3, 9.0, 9.0, 9.0, 9.3, 9.0, 9.3, 9.6],
    "48": [9.6, 10.2, 10.5, 9.9, 10.2, 9.6, 10.2, 10.5, 9.9, 10.2,
           9.9, 10.5, 10.2, 10.8, 10.2, 11.1, 10.5, 9.9, 10.2, 9.6,
           9.9, 10.5, 10.2, 9.6, 9.9, 9.6, 9.3, 9.9, 9.6, 9.3,
           9.6, 9.3, 9.6, 9.0, 9.3, 9.6, 9.3, 9.9, 9.6, 9.3,
           9.6, 9.3, 9.0, 9.3, 9.6, 9.3, 9.0, 9.3, 9.6, 9.9,
           9.6, 10.2, 9.9, 9.6, 9.9, 9.6, 9.3, 9.0, 9.3, 9.6,
           9.3, 9.6, 9.9, 9.3, 9.6, 9.3, 9.0, 9.3, 9.6, 9.3,
           9.0, 9.3, 9.0, 9.3, 9.6, 9.3, 9.6, 9.9, 9.6, 9.3,
           9.9, 9.6, 9.3, 9.0, 9.3, 9.3, 9.0, 9.0, 9.3, 9.0,
           9.3, 9.0, 9.0, 9.0, 9.3, 9.0, 9.0, 9.3, 9.0, 9.3],
    "59": [9.9, 10.5, 9.6, 10.2, 10.8, 10.2, 10.8, 11.4, 10.5, 10.2,
           9.9, 10.5, 10.2, 9.6, 10.2, 10.8, 11.4, 10.8, 10.2, 9.9,
           10.5, 10.2, 9.9, 10.5, 10.2, 9.6, 10.2, 9.6, 9.3, 9.6,
           9.9, 9.6, 9.3, 9.9, 9.6, 10.2, 9.6, 9.3, 9.6, 9.9,
           9.6, 9.3, 9.9, 9.6, 10.2, 9.6, 9.3, 9.6, 9.9, 10.5,
           10.8, 11.1, 10.5, 10.8, 10.2, 9.9, 9.6, 9.3, 9.6, 9.9,
           9.6, 9.3, 9.6, 9.9, 9.3, 9.6, 9.9, 9.6, 9.3, 9.6,
           9.9, 9.6, 9.3, 9.6, 9.9, 9.6, 10.2, 10.5, 10.2, 9.9,
           10.5, 9.9, 9.6, 9.3, 9.3, 9.6, 9.3, 9.0, 9.3, 9.3,
           9.0, 9.3, 9.3, 9.0, 9.3, 9.0, 9.3, 9.3, 9.6, 9.9],
    "64": [10.5, 9.9, 10.2, 10.8, 11.4, 10.8, 10.2, 10.5, 9.9, 10.2,
           10.8, 10.2, 9.9, 10.2, 10.8, 10.5, 11.4, 11.1, 10.5, 10.2,
           9.9, 10.5, 10.2, 9.9, 9.6, 10.2, 9.9, 10.2, 9.6, 9.9,
           10.2, 9.9, 9.6, 9.9, 9.6, 9.3, 9.6, 9.9, 10.2, 9.9,
           9.6, 9.9, 9.6, 10.2, 9.9, 9.6, 9.9, 10.5, 10.8, 10.5,
           11.1, 10.5, 9.9, 10.5, 10.2, 9.6, 9.9, 9.6, 9.9, 9.6,
           9.3, 9.6, 9.9, 9.6, 9.9, 10.2, 9.6, 9.3, 9.6, 9.9,
           9.6, 9.3, 9.6, 9.9, 9.6, 9.3, 9.9, 10.2, 10.2, 9.6,
           9.9, 9.3, 9.6, 9.3, 9.3, 9.6, 9.3, 9.3, 9.0, 9.3,
           9.3, 9.6, 9.3, 9.3, 9.6, 9.3, 9.3, 9.6, 9.6, 9.9],
    "72": [9.0, 9.3, 9.6, 9.3, 9.9, 10.2, 9.6, 9.9, 9.6, 10.5,
           9.9, 10.2, 9.6, 9.9, 10.2, 9.6, 9.9, 10.2, 9.6, 9.3,
           9.6, 9.9, 9.3, 9.6, 9.3, 9.0, 9.3, 9.6, 9.0, 9.3,
           9.0, 9.3, 9.6, 9.3, 9.0, 9.0, 9.3, 9.0, 9.3, 9.6,
           9.3, 9.0, 9.3, 9.0, 9.3, 9.6, 9.3, 9.0, 9.3, 9.6,
           9.9, 9.6, 9.3, 9.6, 9.9, 9.3, 9.0, 9.3, 9.0, 9.3,
           9.0, 9.0, 9.3, 9.0, 9.3, 9.6, 9.3, 9.0, 9.0, 9.3,
           9.0, 9.3, 9.6, 9.3, 9.0, 9.0, 9.3, 9.0, 9.6, 9.3,
           9.0, 9.3, 9.0, 9.0, 9.0, 9.3, 9.0, 9.0, 9.0, 9.3,
           9.0, 9.0, 9.0, 9.3, 9.0, 9.0, 9.0, 9.0, 9.3, 9.3],
    "85": [9.3, 9.9, 9.6, 10.2, 9.9, 10.5, 10.2, 9.6, 10.2, 9.9,
           10.5, 10.8, 10.2, 9.9, 10.2, 9.6, 10.2, 9.9, 10.5, 9.9,
           9.6, 9.9, 10.2, 9.6, 9.9, 9.3, 9.6, 9.9, 9.6, 9.3,
           9.9, 9.6, 9.3, 9.6, 9.9, 9.6, 9.3, 9.6, 9.3, 9.6,
           9.9, 10.2, 9.6, 9.3, 9.6, 9.9, 9.6, 9.3, 9.6, 10.2,
           9.9, 10.5, 9.9, 10.2, 9.6, 9.9, 9.6, 9.3, 9.6, 9.9,
           9.6, 9.3, 9.6, 9.9, 9.6, 9.3, 9.6, 9.9, 9.6, 9.3,
           9.6, 9.3, 9.9, 9.6, 9.3, 9.6, 9.9, 9.6, 10.2, 9.6,
           9.3, 9.6, 9.3, 9.3, 9.0, 9.3, 9.3, 9.0, 9.3, 9.3,
           9.0, 9.3, 9.0, 9.3, 9.3, 9.0, 9.3, 9.6, 9.3, 9.6],
    "93": [9.6, 9.3, 9.9, 10.2, 9.9, 10.8, 10.5, 9.9, 10.5, 11.1,
           10.5, 9.9, 9.6, 10.2, 9.9, 10.5, 9.9, 10.2, 9.6, 9.9,
           9.3, 9.6, 9.9, 9.3, 9.6, 9.3, 9.9, 9.6, 9.3, 9.0,
           9.3, 9.6, 9.3, 9.9, 9.6, 9.3, 9.0, 9.3, 9.6, 9.3,
           9.0, 9.3, 9.6, 9.3, 9.9, 9.3, 9.6, 9.3, 9.6, 10.2,
           9.6, 9.9, 10.5, 9.9, 9.6, 9.9, 9.3, 9.6, 9.0, 9.3,
           9.6, 9.3, 9.0, 9.3, 9.6, 9.3, 9.6, 9.9, 9.3, 9.0,
           9.3, 9.6, 9.3, 9.0, 9.3, 9.6, 9.3, 9.3, 9.9, 9.6,
           9.3, 9.0, 9.3, 9.0, 9.0, 9.3, 9.0, 9.0, 9.3, 9.0,
           9.0, 9.0, 9.3, 9.0, 9.0, 9.0, 9.3, 9.0, 9.3, 9.3],
    "101": [9.6, 10.2, 10.8, 10.5, 9.9, 10.2, 10.8, 11.1, 10.5, 9.9,
            10.2, 9.9, 10.5, 10.2, 9.6, 10.2, 9.9, 10.5, 9.9, 9.6,
            10.2, 9.6, 9.9, 10.2, 9.6, 9.9, 9.6, 9.3, 9.6, 9.9,
            9.6, 9.3, 9.6, 9.9, 9.3, 9.6, 9.9, 9.6, 9.3, 9.6,
            9.3, 9.6, 9.9, 9.6, 9.3, 9.6, 9.3, 9.6, 9.9, 10.2,
            10.5, 9.9, 10.2, 9.9, 10.5, 9.9, 9.6, 9.9, 9.6, 9.3,
            9.6, 9.3, 9.6, 9.9, 9.6, 9.3, 9.6, 9.3, 9.6, 9.9,
            9.6, 9.3, 9.6, 9.3, 9.6, 9.9, 9.6, 9.9, 10.2, 9.9,
            9.6, 9.3, 9.0, 9.3, 9.0, 9.3, 9.3, 9.0, 9.3, 9.0,
            9.3, 9.3, 9.0, 9.0, 9.3, 9.3, 9.0, 9.3, 9.3, 9.6],
    "121": [10.2, 10.8, 9.9, 10.5, 11.1, 11.7, 10.8, 10.2, 10.8, 11.4,
            10.8, 10.2, 10.5, 11.1, 11.7, 11.1, 10.5, 9.9, 10.5, 10.2,
            10.8, 10.5, 9.9, 10.2, 10.5, 9.9, 10.2, 9.9, 9.6, 10.2,
            9.9, 9.6, 10.2, 9.9, 9.6, 9.9, 10.2, 9.6, 9.9, 10.2,
            10.5, 9.9, 10.2, 9.6, 9.9, 10.2, 9.6, 9.9, 10.5, 11.1,
            10.8, 10.5, 11.1, 11.4, 10.8, 10.2, 9.9, 10.2, 9.6, 9.9,
            10.2, 9.6, 9.9, 9.6, 9.3, 9.6, 9.9, 9.6, 10.2, 9.9,
            9.6, 9.9, 10.2, 9.6, 9.9, 9.6, 9.9, 10.5, 10.8, 10.2,
            9.6, 9.9, 9.6, 9.3, 9.6, 9.3, 9.3, 9.6, 9.3, 9.3,
            9.6, 9.3, 9.3, 9.6, 9.9, 9.3, 9.3, 9.6, 9.9, 10.2],
}

# segment 5: 10.00 .. 10.45 us (final rise)
SEG5 = {
    "4":   [9.6, 9.9, 8.7, 10.8, 13.0, 20.5, 28.5, 33.0, 37.0, 40.0],
    "11":  [9.3, 10.2, 8.5, 10.2, 12.5, 19.5, 28.0, 32.5, 36.5, 39.8],
    "17":  [9.9, 10.2, 8.8, 10.9, 13.4, 20.6, 28.7, 33.2, 37.2, 40.0],
    "23":  [9.9, 9.6, 8.8, 11.0, 13.5, 21.0, 29.0, 33.5, 37.5, 40.0],
    "29":  [9.3, 9.6, 8.6, 10.4, 12.7, 19.9, 28.3, 32.9, 36.9, 40.0],
    "36":  [9.3, 9.9, 8.6, 10.5, 12.8, 20.0, 28.5, 33.0, 37.0, 40.0],
    "48":  [9.6, 10.2, 8.9, 10.8, 13.2, 20.5, 28.8, 33.2, 37.2, 40.0],
    "59":  [9.9, 10.5, 8.7, 10.4, 12.6, 19.8, 28.2, 32.8, 36.8, 39.9],
    "64":  [9.6, 10.5, 8.7, 11.0, 13.4, 20.9, 29.0, 33.5, 37.4, 40.0],
    "72":  [9.3, 9.6, 8.6, 10.6, 13.0, 20.2, 28.6, 33.0, 37.0, 40.0],
    "85":  [9.6, 9.9, 8.8, 10.9, 13.3, 20.8, 28.9, 33.4, 37.3, 40.0],
    "93":  [9.3, 9.9, 8.5, 10.2, 12.4, 19.6, 28.1, 32.7, 36.7, 39.9],
    "101": [9.6, 9.6, 8.5, 10.3, 12.7, 20.0, 28.3, 32.9, 36.9, 40.0],
    "121": [10.2, 10.5, 8.9, 11.2, 13.6, 21.2, 29.2, 33.6, 37.6, 40.0],
}

X_TICKS = [0.0, 2.5, 5.0, 7.5, 10.0]
Y_TICKS = [0, 10, 20, 30, 40]
X_DOMAIN = [-1.0, 11.0]
Y_DOMAIN = [-1.0, 40.0]

NOTE_MAIN = "Traces 4 to 121"
NOTE_SUB = "74 excluded"
NOTE_X = 6.06
NOTE_MAIN_Y = 39.0
NOTE_SUB_Y = 36.26

# ---------------- build table ----------------
rows = []
for order, name in enumerate(TRACES):
    vals = SEG1[name] + SEG2[name] + SEG3[name] + SEG4[name] + SEG5[name]
    assert len(vals) == len(TIME), (name, len(vals), len(TIME))
    for t, v in zip(TIME, vals):
        rows.append({"trace": name, "order": order, "time": t, "current": v})
df = pd.DataFrame(rows)

BROWN = "#7a4117"
W, H = 2490, 1468
TICK_LEN = 20

xscale = alt.Scale(domain=X_DOMAIN, nice=False, zero=False)
yscale = alt.Scale(domain=Y_DOMAIN, nice=False, zero=False)
xaxis = alt.Axis(values=X_TICKS, format=".1f", title="Time [μs]", labelPadding=31, titlePadding=26)
yaxis = alt.Axis(values=Y_TICKS, format="d", title="Tube Current [A]", labelPadding=37, titlePadding=44)

lines = alt.Chart(df).mark_line(
    strokeWidth=7, opacity=0.88, clip=True, strokeJoin="round", strokeCap="round"
).encode(
    x=alt.X("time:Q", scale=xscale, axis=xaxis),
    y=alt.Y("current:Q", scale=yscale, axis=yaxis),
    color=alt.Color("trace:N", scale=alt.Scale(domain=TRACES, range=COLORS), legend=None),
    detail="trace:N",
    order=alt.Order("order:Q"),
)

xt = alt.Chart(pd.DataFrame({"time": X_TICKS})).mark_rule(color=BROWN, strokeWidth=3.5).encode(
    x=alt.X("time:Q", scale=xscale, axis=xaxis),
    y=alt.value(H - TICK_LEN), y2=alt.value(H),
)
yt = alt.Chart(pd.DataFrame({"current": Y_TICKS})).mark_rule(color=BROWN, strokeWidth=3.5).encode(
    y=alt.Y("current:Q", scale=yscale, axis=yaxis),
    x=alt.value(0), x2=alt.value(TICK_LEN),
)

note1 = alt.Chart(pd.DataFrame({"time": [NOTE_X], "current": [NOTE_MAIN_Y], "s": [NOTE_MAIN]})).mark_text(
    align="left", baseline="alphabetic", font="Lato", fontSize=83, color=BROWN
).encode(x=alt.X("time:Q", scale=xscale, axis=xaxis), y=alt.Y("current:Q", scale=yscale, axis=yaxis), text="s:N")
note2 = alt.Chart(pd.DataFrame({"time": [NOTE_X], "current": [NOTE_SUB_Y], "s": [NOTE_SUB]})).mark_text(
    align="left", baseline="alphabetic", font="Lato", fontSize=67, color=BROWN
).encode(x=alt.X("time:Q", scale=xscale, axis=xaxis), y=alt.Y("current:Q", scale=yscale, axis=yaxis), text="s:N")

chart = alt.layer(lines, xt, yt, note1, note2).properties(
    width=W, height=H,
    autosize=alt.AutoSizeParams(type="none"),
    padding={"left": 241, "top": 47, "right": 23, "bottom": 170},
    background="white",
).configure_axis(
    domainColor=BROWN, domainWidth=3.5, labelColor=BROWN, titleColor=BROWN,
    labelFont="DejaVu Sans", titleFont="DejaVu Sans",
    labelFontSize=47, titleFontSize=62, titleFontWeight="normal",
    ticks=False, grid=False,
).configure_view(stroke=None)

chart.save("out.html", embed_options={"renderer": "svg", "actions": False})
